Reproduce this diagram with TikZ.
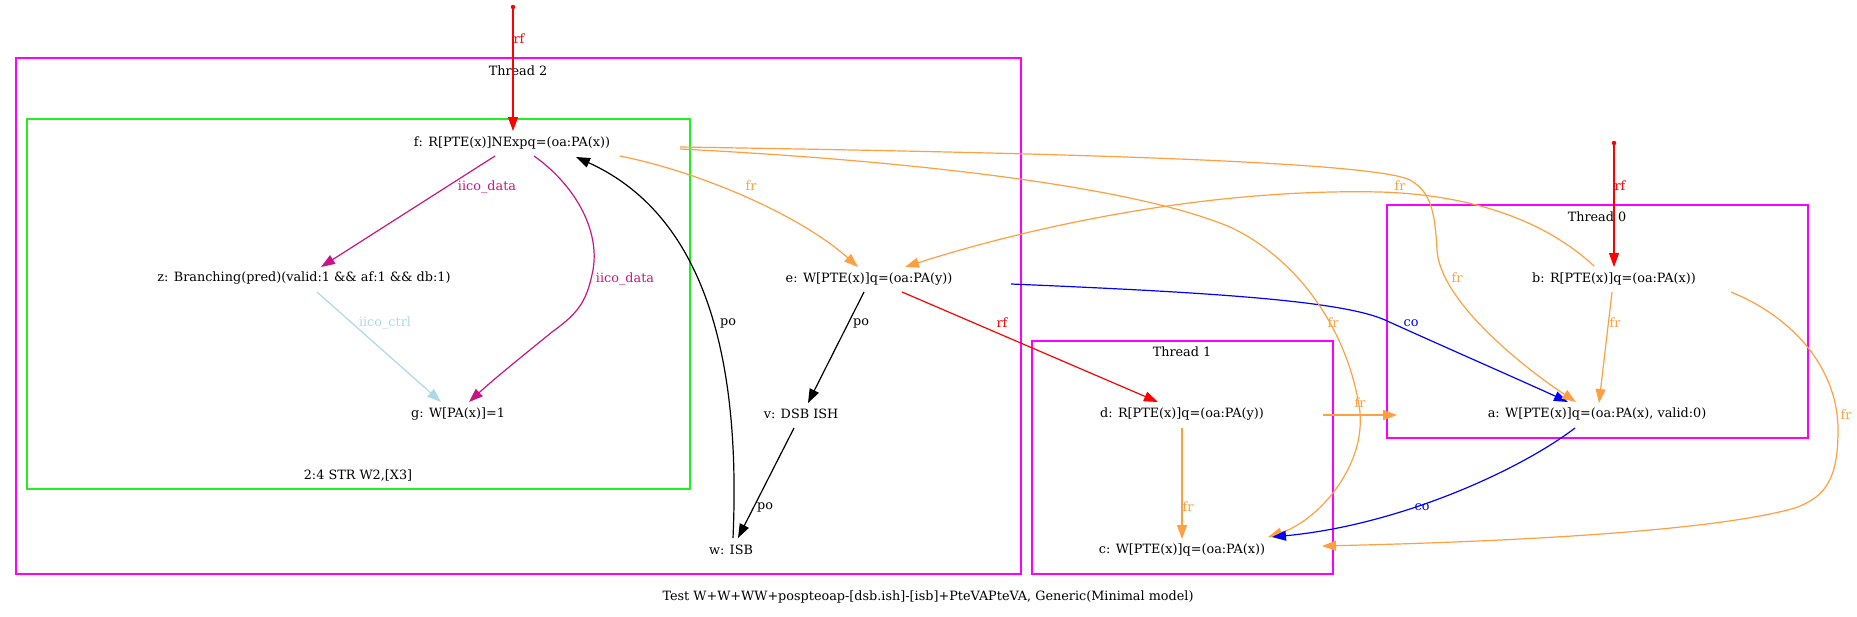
\documentclass[tikz,border=0pt]{standalone}
\usepackage{fontspec}
\setmainfont{DejaVu Serif}
\usetikzlibrary{arrows.meta,calc}
\definecolor{frc}{HTML}{FFA040}
\definecolor{iicod}{HTML}{C71585}
\definecolor{iicoc}{HTML}{ADD8E6}
\definecolor{thr}{HTML}{FF00FF}
\definecolor{grn}{HTML}{22EE22}
\newcommand\gvfont{\fontsize{12.8}{15}\selectfont}
\tikzset{
  ev/.style={inner sep=0pt, font=\gvfont},
  lab/.style={inner sep=0pt, font=\gvfont},
  edge/.style={line width=1.2pt, -{Triangle[length=14pt,width=10pt]}},
  box/.style={line width=1.5pt},
  rdot/.style={circle, fill=red, inner sep=0pt, minimum size=4.5pt}
}
\begin{document}
\begin{tikzpicture}[x=1pt,y=-1pt]
\useasboundingbox (0,0) rectangle (1857,616);
% clusters
\draw[thr,box] (16,58) rectangle (1021,574);
\node[lab] (t2) at (518,71) {Thread 2};
\draw[grn,box] (27,119) rectangle (690,489);
\node[lab] (gl) at (358,476) {2:4 STR W2,[X3]};
\draw[thr,box] (1032,341) rectangle (1333,574);
\node[lab] (t1) at (1182,352) {Thread 1};
\draw[thr,box] (1387,205) rectangle (1808,438);
\node[lab] (t0) at (1597,217) {Thread 0};
% events
\node[ev] (f) at (512,143) {f: R[PTE(x)]NExpq=(oa:PA(x))};
\node[ev] (z) at (304,278) {z: Branching(pred)(valid:1 \&\& af:1 \&\& db:1)};
\node[ev] (g) at (458,414) {g: W[PA(x)]=1};
\node[ev] (e) at (869,279) {e: W[PTE(x)]q=(oa:PA(y))};
\node[ev] (v) at (801,414) {v: DSB ISH};
\node[ev] (w) at (731,550) {w: ISB};
\node[ev] (d) at (1182,414) {d: R[PTE(x)]q=(oa:PA(y))};
\node[ev] (c) at (1182,550) {c: W[PTE(x)]q=(oa:PA(x))};
\node[ev] (b) at (1614,279) {b: R[PTE(x)]q=(oa:PA(x))};
\node[ev] (a) at (1597,414) {a: W[PTE(x)]q=(oa:PA(x), valid:0)};
\node[rdot] (r1) at (513,7) {};
\node[rdot] (r2) at (1614,143) {};
% edges
\draw[edge,red] (r1) -- ($(f)+(1,-12)$);
\node[lab,text=red] (l1) at (519,39) {rf};
\draw[edge,iicod] ($(f)+(-17,13)$) -- ($(z)+(17,-11)$);
\node[lab,text=iicod] (l2) at (487,187) {iico\_data};
\draw[edge,iicod] ($(f)+(22,13)$) .. controls (575,185) and (600,230) .. (593,270) .. controls (587,300) and (580,312) .. (552,332) .. controls (530,350) and (495,378) .. ($(g)+(11,-12)$);
\node[lab,text=iicod] (l3) at (625,279) {iico\_data};
\draw[edge,iicoc] ($(z)+(13,14)$) -- ($(g)+(-17,-12)$);
\node[lab,text=iicoc] (l4) at (385,323) {iico\_ctrl};
\draw[edge] ($(w)+(2,-12)$) .. controls (740,380) and (715,220) .. ($(f)+(64,14)$);
\node[lab] (l5) at (728,323) {po};
\draw[edge,frc] ($(f)+(108,13)$) .. controls (700,172) and (800,215) .. ($(e)+(-11,-12)$);
\node[lab,text=frc] (l6) at (751,186) {fr};
\draw[edge] ($(e)+(-5,13)$) -- ($(v)+(7,-11)$);
\node[lab] (l7) at (861,323) {po};
\draw[edge] ($(v)+(-7,14)$) -- ($(w)+(7,-12)$);
\node[lab] (l8) at (765,507) {po};
\draw[edge,red] ($(e)+(33,13)$) -- ($(d)+(-24,-12)$);
\node[lab,text=red] (l9) at (1002,323) {rf};
\draw[edge,blue] ($(e)+(142,5)$) .. controls (1200,292) and (1340,300) .. (1385,320) .. controls (1440,345) and (1520,380) .. ($(a)+(-29,-12)$);
\node[lab,text=blue] (l10) at (1411,323) {co};
\draw[edge,frc] ($(f)+(168,4)$) .. controls (1000,152) and (1370,160) .. (1410,180) .. controls (1432,192) and (1435,215) .. (1437,250) .. controls (1440,300) and (1520,365) .. ($(a)+(-21,-12)$);
\node[lab,text=frc] (l11) at (1457,278) {fr};
\draw[edge,frc] ($(f)+(168,6)$) .. controls (900,160) and (1130,185) .. (1230,227) .. controls (1300,260) and (1345,330) .. (1358,400) .. controls (1372,460) and (1320,520) .. ($(c)+(86,-13)$);
\node[lab,text=frc] (l12) at (1333,323) {fr};
\draw[edge,frc] ($(b)+(-20,-13)$) .. controls (1550,225) and (1480,195) .. (1380,192) .. controls (1200,188) and (1020,230) .. ($(e)+(36,-12)$);
\node[lab,text=frc] (l13) at (1400,186) {fr};
\draw[edge,red] (r2) -- ($(b)+(0,-12)$);
\node[lab,text=red] (l14) at (1620,186) {rf};
\draw[edge,frc] ($(b)+(-2,13)$) -- ($(a)+(2,-11)$);
\node[lab,text=frc] (l15) at (1615,323) {fr};
\draw[edge,frc] ($(b)+(117,13)$) .. controls (1795,318) and (1838,370) .. (1838,430) .. controls (1838,480) and (1825,497) .. (1795,508) .. controls (1700,535) and (1450,543) .. ($(c)+(140,-4)$);
\node[lab,text=frc] (l16) at (1846,415) {fr};
\draw[edge,frc] ($(d)+(141,1)$) -- ($(a)+(-200,1)$);
\node[lab,text=frc] (l17) at (1360,403) {fr};
\draw[edge,frc] ($(d)+(0,14)$) -- ($(c)+(0,-11)$);
\node[lab,text=frc] (l18) at (1188,507) {fr};
\draw[edge,blue] ($(a)+(-22,14)$) .. controls (1520,470) and (1400,525) .. ($(c)+(90,-13)$);
\node[lab,text=blue] (l19) at (1422,507) {co};
% caption
\node[lab] (cap) at (928,597) {Test W+W+WW+pospteoap-[dsb.ish]-[isb]+PteVAPteVA, Generic(Minimal model)};
\end{tikzpicture}
\end{document}
